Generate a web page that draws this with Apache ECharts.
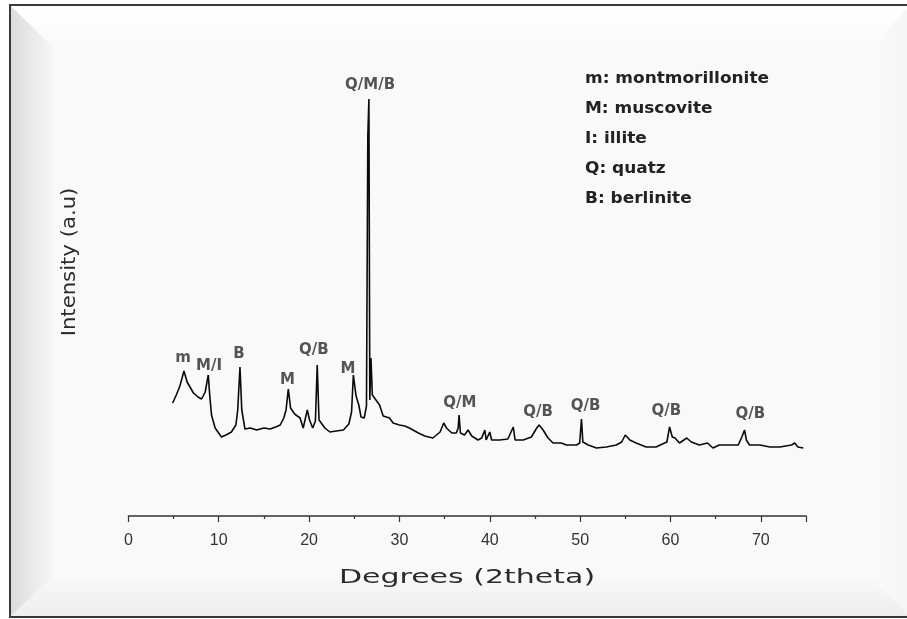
<!DOCTYPE html>
<html><head><meta charset="utf-8">
<script src="https://cdn.jsdelivr.net/npm/echarts@6/dist/echarts.min.js"></script>
<style>html,body{margin:0;padding:0;background:#fff}#c{width:907px;height:619px}</style>
</head><body><div id="c"></div>
<script>
// XRD pattern: 2theta (degrees) and intensity (a.u.)
const twoTheta = [4.9,5.3,5.7,6.15,6.5,7.2,7.7,8.1,8.5,8.84,9.0,9.2,9.6,10.3,10.8,11.4,11.9,12.1,12.35,12.55,12.9,13.5,14.2,15.0,15.7,16.3,16.8,17.2,17.45,17.7,17.95,18.4,19.0,19.35,19.8,20.05,20.4,20.7,20.9,21.1,21.75,22.3,23.0,23.8,24.4,24.7,24.9,25.2,25.5,25.75,26.1,26.35,26.5,26.62,26.72,26.85,27.0,27.4,27.8,28.2,28.9,29.3,30.0,30.6,31.1,32.1,32.8,33.7,34.5,34.9,35.2,35.8,36.3,36.5,36.6,36.75,37.2,37.6,38.0,38.7,39.1,39.45,39.6,40.0,40.2,41.1,42.0,42.6,42.8,43.7,44.6,45.2,45.45,45.9,46.45,47.0,47.9,48.1,48.5,49.6,49.95,50.15,50.3,50.9,51.8,52.9,54.0,54.6,55.0,55.5,56.2,57.3,58.4,59.35,59.6,59.9,60.2,60.5,61.0,61.8,62.3,63.2,64.1,64.7,65.4,66.5,67.5,67.9,68.0,68.2,68.4,68.75,69.9,71.0,72.1,73.4,73.75,74.1,74.7];
const intensity = [113,121,130,145,134,123,119,117,124,141,121,101,88,79,81,84,91,106,149,106,87,88,86,88,87,89,91,98,106,127,108,102,98,88,106,96,88,95,151,96,88,84,85,86,92,104,141,120,111,99,98,110,380,417,116,158,121,116,111,100,98,93,91,90,88,83,80,78,84,93,88,83,83,88,101,83,81,86,80,76,78,86,76,84,76,76,77,89,76,76,79,88,91,86,78,73,73,75,71,71,73,97,74,71,68,69,71,74,81,76,73,69,69,73,74,89,79,78,73,78,74,71,73,68,71,71,71,79,81,86,76,71,71,69,69,71,73,69,68];

// Peak annotations (label centre: 2theta, intensity, phase text)
const peakLabelTheta = [6.04,8.92,12.24,17.6,20.53,24.29,26.75,36.68,45.35,50.6,59.55,68.84];
const peakLabelLevel = [158,150,162,136,166,147,431,113,104,110,105,102];
const peakLabelText  = ['m','M/I','B','M','Q/B','M','Q/M/B','Q/M','Q/B','Q/B','Q/B','Q/B'];

const phaseLegend = ['m: montmorillonite','M: muscovite','I: illite','Q: quatz','B: berlinite'];
const xAxisTitle = 'Degrees (2theta)';
const yAxisTitle = 'Intensity (a.u)';

const chart = echarts.init(document.getElementById('c'), null, {renderer:'canvas'});

const graphics = [
  // panel background with bevel
  {type:'rect', z:-20, shape:{x:11,y:6,width:900,height:610}, style:{fill:'#f9f9f9'}},
  {type:'polygon', z:-19, shape:{points:[[11,6],[52,46],[52,578],[11,616]]},
   style:{fill:{type:'linear',x:0,y:0,x2:1,y2:0,colorStops:[{offset:0,color:'#dcdcdc'},{offset:1,color:'#f6f6f6'}]}}},
  {type:'polygon', z:-19, shape:{points:[[11,616],[52,578],[872,578],[910,616]]},
   style:{fill:{type:'linear',x:0,y:0,x2:0,y2:1,colorStops:[{offset:0,color:'#f8f8f8'},{offset:1,color:'#eeeeee'}]}}},
  {type:'polygon', z:-19, shape:{points:[[11,6],[910,6],[872,46],[52,46]]},
   style:{fill:{type:'linear',x:0,y:0,x2:0,y2:1,colorStops:[{offset:0,color:'#ffffff'},{offset:1,color:'#fafafa'}]}}},
  {type:'polygon', z:-19, shape:{points:[[872,46],[910,6],[910,616],[872,578]]},
   style:{fill:{type:'linear',x:0,y:0,x2:1,y2:0,colorStops:[{offset:0,color:'#fafafa'},{offset:1,color:'#f5f5f5'}]}}},
  {type:'rect', z:-18, shape:{x:10,y:5,width:905,height:612}, style:{fill:null,stroke:'#3a3a3a',lineWidth:2}},
  // axis titles
  {type:'text', z:50, x:467, y:578, scaleX:1.5,
   style:{text:xAxisTitle, font:'20px "DejaVu Sans"', fill:'#2b2b2b', align:'center', verticalAlign:'middle'}},
  {type:'text', z:50, x:70, y:262, rotation:Math.PI/2, scaleX:1.06,
   style:{text:yAxisTitle, font:'20px "DejaVu Sans"', fill:'#2b2b2b', align:'center', verticalAlign:'middle'}}
];
phaseLegend.forEach((t,i)=>{
  graphics.push({type:'text', z:50, x:585, y:79+30*i, scaleX:1.13,
    style:{text:t, font:'bold 15px "DejaVu Sans"', fill:'#222', align:'left', verticalAlign:'middle'}});
});

chart.setOption({
  animation:false,
  backgroundColor:'#ffffff',
  grid:{left:128.4, right:101, top:60, bottom:103},
  xAxis:{
    type:'value', min:0, max:75, interval:10,
    axisLine:{show:true, onZero:false, lineStyle:{color:'#333', width:1.5}},
    axisTick:{show:true, inside:false, length:6, lineStyle:{color:'#333', width:1.2}},
    minorTick:{show:true, splitNumber:2, length:3, lineStyle:{color:'#333', width:1.2}},
    axisLabel:{show:true, margin:17, color:'#333', fontFamily:'Liberation Sans', fontSize:16, showMaxLabel:false},
    splitLine:{show:false}
  },
  yAxis:{type:'value', min:0, max:456, show:false},
  graphic: graphics,
  series:[
    {type:'line', data: twoTheta.map((x,i)=>[x,intensity[i]]), symbol:'none', silent:true,
     lineStyle:{color:'#0a0a0a', width:1.6}},
    {type:'scatter', silent:true, symbolSize:0,
     data: peakLabelTheta.map((x,i)=>({name:peakLabelText[i], value:[x,peakLabelLevel[i]]})),
     label:{show:true, position:'inside', formatter:'{b}', color:'#2a2a2a',
            fontFamily:'DejaVu Sans', fontWeight:'bold', fontSize:15}}
  ]
});
</script></body></html>
